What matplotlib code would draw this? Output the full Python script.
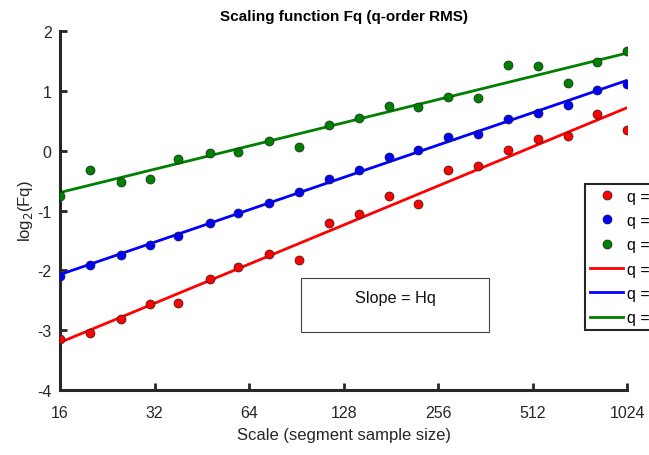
import numpy as np
import matplotlib
matplotlib.use('Agg')
import matplotlib.pyplot as plt
from matplotlib.patches import Rectangle

plt.rcParams['font.family'] = ['Liberation Sans', 'DejaVu Sans']
plt.rcParams['axes.unicode_minus'] = False

# segment sizes (scale)
scale = [16, 20, 25, 31, 38, 48, 59, 74, 92, 115, 143, 178, 221, 275, 343, 427, 531, 661, 823, 1024]

# log2(Fq) for each q
fq_neg = [-3.14, -3.05, -2.82, -2.57, -2.54, -2.15, -1.94, -1.72, -1.83, -1.21,
          -1.06, -0.75, -0.89, -0.32, -0.26, 0.02, 0.19, 0.25, 0.62, 0.35]
fq_zero = [-2.10, -1.91, -1.74, -1.58, -1.43, -1.21, -1.04, -0.87, -0.69, -0.48,
           -0.32, -0.11, 0.02, 0.23, 0.28, 0.53, 0.63, 0.76, 1.02, 1.11]
fq_pos = [-0.76, -0.32, -0.52, -0.47, -0.13, -0.03, -0.02, 0.17, 0.06, 0.43,
          0.55, 0.75, 0.73, 0.90, 0.89, 1.43, 1.42, 1.13, 1.49, 1.67]

q_labels = ['q =-3', 'q =0', 'q =3']
colours = ['#ff0000', '#0000ff', '#008000']
xticks = [16, 32, 64, 128, 256, 512, 1024]

fig = plt.figure(figsize=(6.49, 4.56), dpi=100)
ax = fig.add_axes([0.0925, 0.1425, 0.874, 0.787])

logscale = np.log2(scale)
series = [fq_neg, fq_zero, fq_pos]

for y, c, lab in zip(series, colours, q_labels):
    ax.plot(scale, y, 'o', color=c, markeredgecolor='#222222', markeredgewidth=0.5,
            markersize=6.5, label=lab, zorder=3)
for y, c, lab in zip(series, colours, q_labels):
    p = np.polyfit(logscale, y, 1)
    ax.plot(scale, np.polyval(p, logscale), '-', color=c, linewidth=2, label=lab, zorder=2)

ax.set_xscale('log', base=2)
ax.set_xlim(16, 1024)
ax.set_ylim(-4, 2)
ax.set_xticks(xticks)
ax.set_xticklabels([str(t) for t in xticks])
ax.minorticks_off()
ax.set_yticks(range(-4, 3))

for s in ['top', 'right']:
    ax.spines[s].set_visible(False)
for s in ['left', 'bottom']:
    ax.spines[s].set_linewidth(2.2)
    ax.spines[s].set_color('#262626')
ax.tick_params(direction='in', length=5, width=2, color='#262626',
               labelsize=11.5, labelcolor='#262626')
ax.tick_params(axis='x', pad=11)
ax.tick_params(axis='y', pad=6)

ax.set_title('Scaling function Fq (q-order RMS)', fontsize=11, fontweight='bold', pad=8)
ax.set_xlabel('Scale (segment sample size)', fontsize=12, color='#262626', labelpad=5)
ax.set_ylabel('log$_2$(Fq)', fontsize=12, color='#262626', labelpad=2)

leg = ax.legend(loc='upper left', bbox_to_anchor=(585 / 649, 1 - 185 / 456),
                bbox_transform=fig.transFigure, fontsize=11.5, fancybox=False,
                framealpha=1, edgecolor='#262626', borderaxespad=0,
                handlelength=2.1, handletextpad=0.25, labelspacing=0.58,
                borderpad=0.3)
leg.get_frame().set_linewidth(1.5)

fig.patches.append(Rectangle((301 / 649, 1 - 333 / 456), 188 / 649, 54 / 456,
                             transform=fig.transFigure, fill=False,
                             edgecolor='#444444', linewidth=0.8))
fig.text(395 / 649, 1 - 298 / 456, 'Slope = Hq', ha='center', va='center',
         fontsize=11.7, color='#111111')

fig.savefig('out.png', dpi=100)
